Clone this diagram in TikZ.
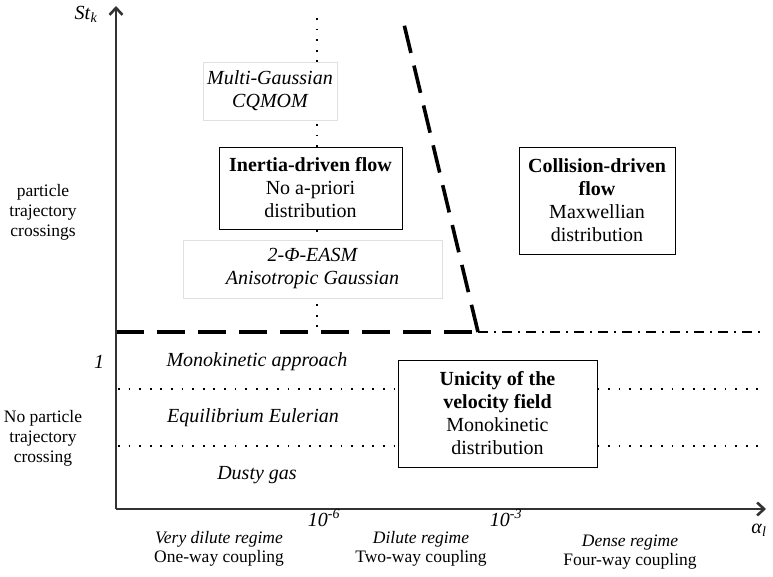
\documentclass[tikz,border=0pt]{standalone}
\usepackage{fontspec}
\setmainfont{Liberation Serif}
\usetikzlibrary{arrows.meta}
\tikzset{
  axis/.style={line width=1.3pt, black!80, -{Straight Barb[length=7pt,width=13pt,line width=2.6pt]}},
  flowbox/.style={draw, fill=white, align=center, line width=0.7pt, inner sep=0pt},
  modelbox/.style={draw=black!12, fill=white, align=center, font=\fontsize{20}{23}\selectfont\itshape, line width=0.7pt, inner sep=0pt},
  border/.style={line width=3.6pt, dash pattern=on 28pt off 13pt},
  dense/.style={line width=2pt, dash pattern=on 10pt off 6pt on 2pt off 6pt},
  split/.style={line width=1.8pt, dash pattern=on 1.8pt off 8.8pt},
  zone/.style={font=\fontsize{20}{23}\selectfont\itshape},
  side/.style={align=center, font=\fontsize{17.5}{20}\selectfont},
  regime/.style={align=center, font=\fontsize{17.5}{19}\selectfont}
}
\begin{document}
\begin{tikzpicture}[x=1pt,y=-1pt,font=\fontsize{20}{23}\selectfont]
  \useasboundingbox (0,0) rectangle (773,577);
  \coordinate (o) at (116,509);
  \coordinate (ytop) at (116,6);
  \coordinate (xend) at (766,509);
  \coordinate (vtop) at (317,18);
  \coordinate (vbot) at (317,332);
  \coordinate (peak) at (403,20);
  \coordinate (knee) at (478,332);
  \coordinate (wall) at (116,332);
  \coordinate (rim) at (765,332);
  \coordinate (m1) at (118,389);
  \coordinate (m2) at (118,446);
  \coordinate (e1) at (765,389);
  \coordinate (e2) at (765,446);
  \draw[split] (vtop) -- (vbot);
  \draw
    (270,91) node[modelbox, minimum width=134pt, minimum height=58pt] (multi) {Multi-Gaussian\\CQMOM}
    (310.5,188) node[flowbox, minimum width=183pt, minimum height=82pt] (inertia) {\textbf{Inertia-driven flow}\\No a-priori\\distribution}
    (312.5,269) node[modelbox, minimum width=259pt, minimum height=58pt] (easm) {2-\textit{Φ}-EASM\\Anisotropic Gaussian}
    (597,200.5) node[flowbox, minimum width=156pt, minimum height=107pt] (collision) {\textbf{Collision-driven}\\\textbf{flow}\\Maxwellian\\distribution}
    (497.5,413.5) node[flowbox, minimum width=199pt, minimum height=107pt] (unicity) {\textbf{Unicity of the}\\\textbf{velocity field}\\Monokinetic\\distribution};
  \draw[border] (wall) -- (knee);
  \draw[border] (knee) -- (peak);
  \draw[dense] (knee) -- (rim);
  \draw[split] (m1) -- (m1 -| unicity.west);
  \draw[split] (m2) -- (m2 -| unicity.west);
  \draw[split] (unicity.east |- e1) -- (e1);
  \draw[split] (unicity.east |- e2) -- (e2);
  \draw[axis] (o) -- (ytop);
  \draw[axis] (o) -- (xend);
  \node (stk) at (86,14) {\textit{St}\textsubscript{\textit{k}}};
  \node (alpha) at (759,530) {\textit{α}\textsubscript{\textit{l}}};
  \node (one) at (99,362) {\textit{1}};
  \node[side] (cross) at (43,212) {particle\\trajectory\\crossings};
  \node[side] (nocross) at (43,438) {No particle\\trajectory\\crossing};
  \node[zone] (mono) at (257,362) {Monokinetic approach};
  \node[zone] (equi) at (253,418) {Equilibrium Eulerian};
  \node[zone] (dusty) at (257,475) {Dusty gas};
  \node (six) at (324,518) {\textit{10}\textsuperscript{\textit{-6}}};
  \node (three) at (506,518) {\textit{10}\textsuperscript{\textit{-3}}};
  \node[regime] (vdil) at (219,549) {\textit{Very dilute regime}\\One-way coupling};
  \node[regime] (dil) at (421,549) {\textit{Dilute regime}\\Two-way coupling};
  \node[regime] (dns) at (630,552) {\textit{Dense regime}\\Four-way coupling};
\end{tikzpicture}
\end{document}
